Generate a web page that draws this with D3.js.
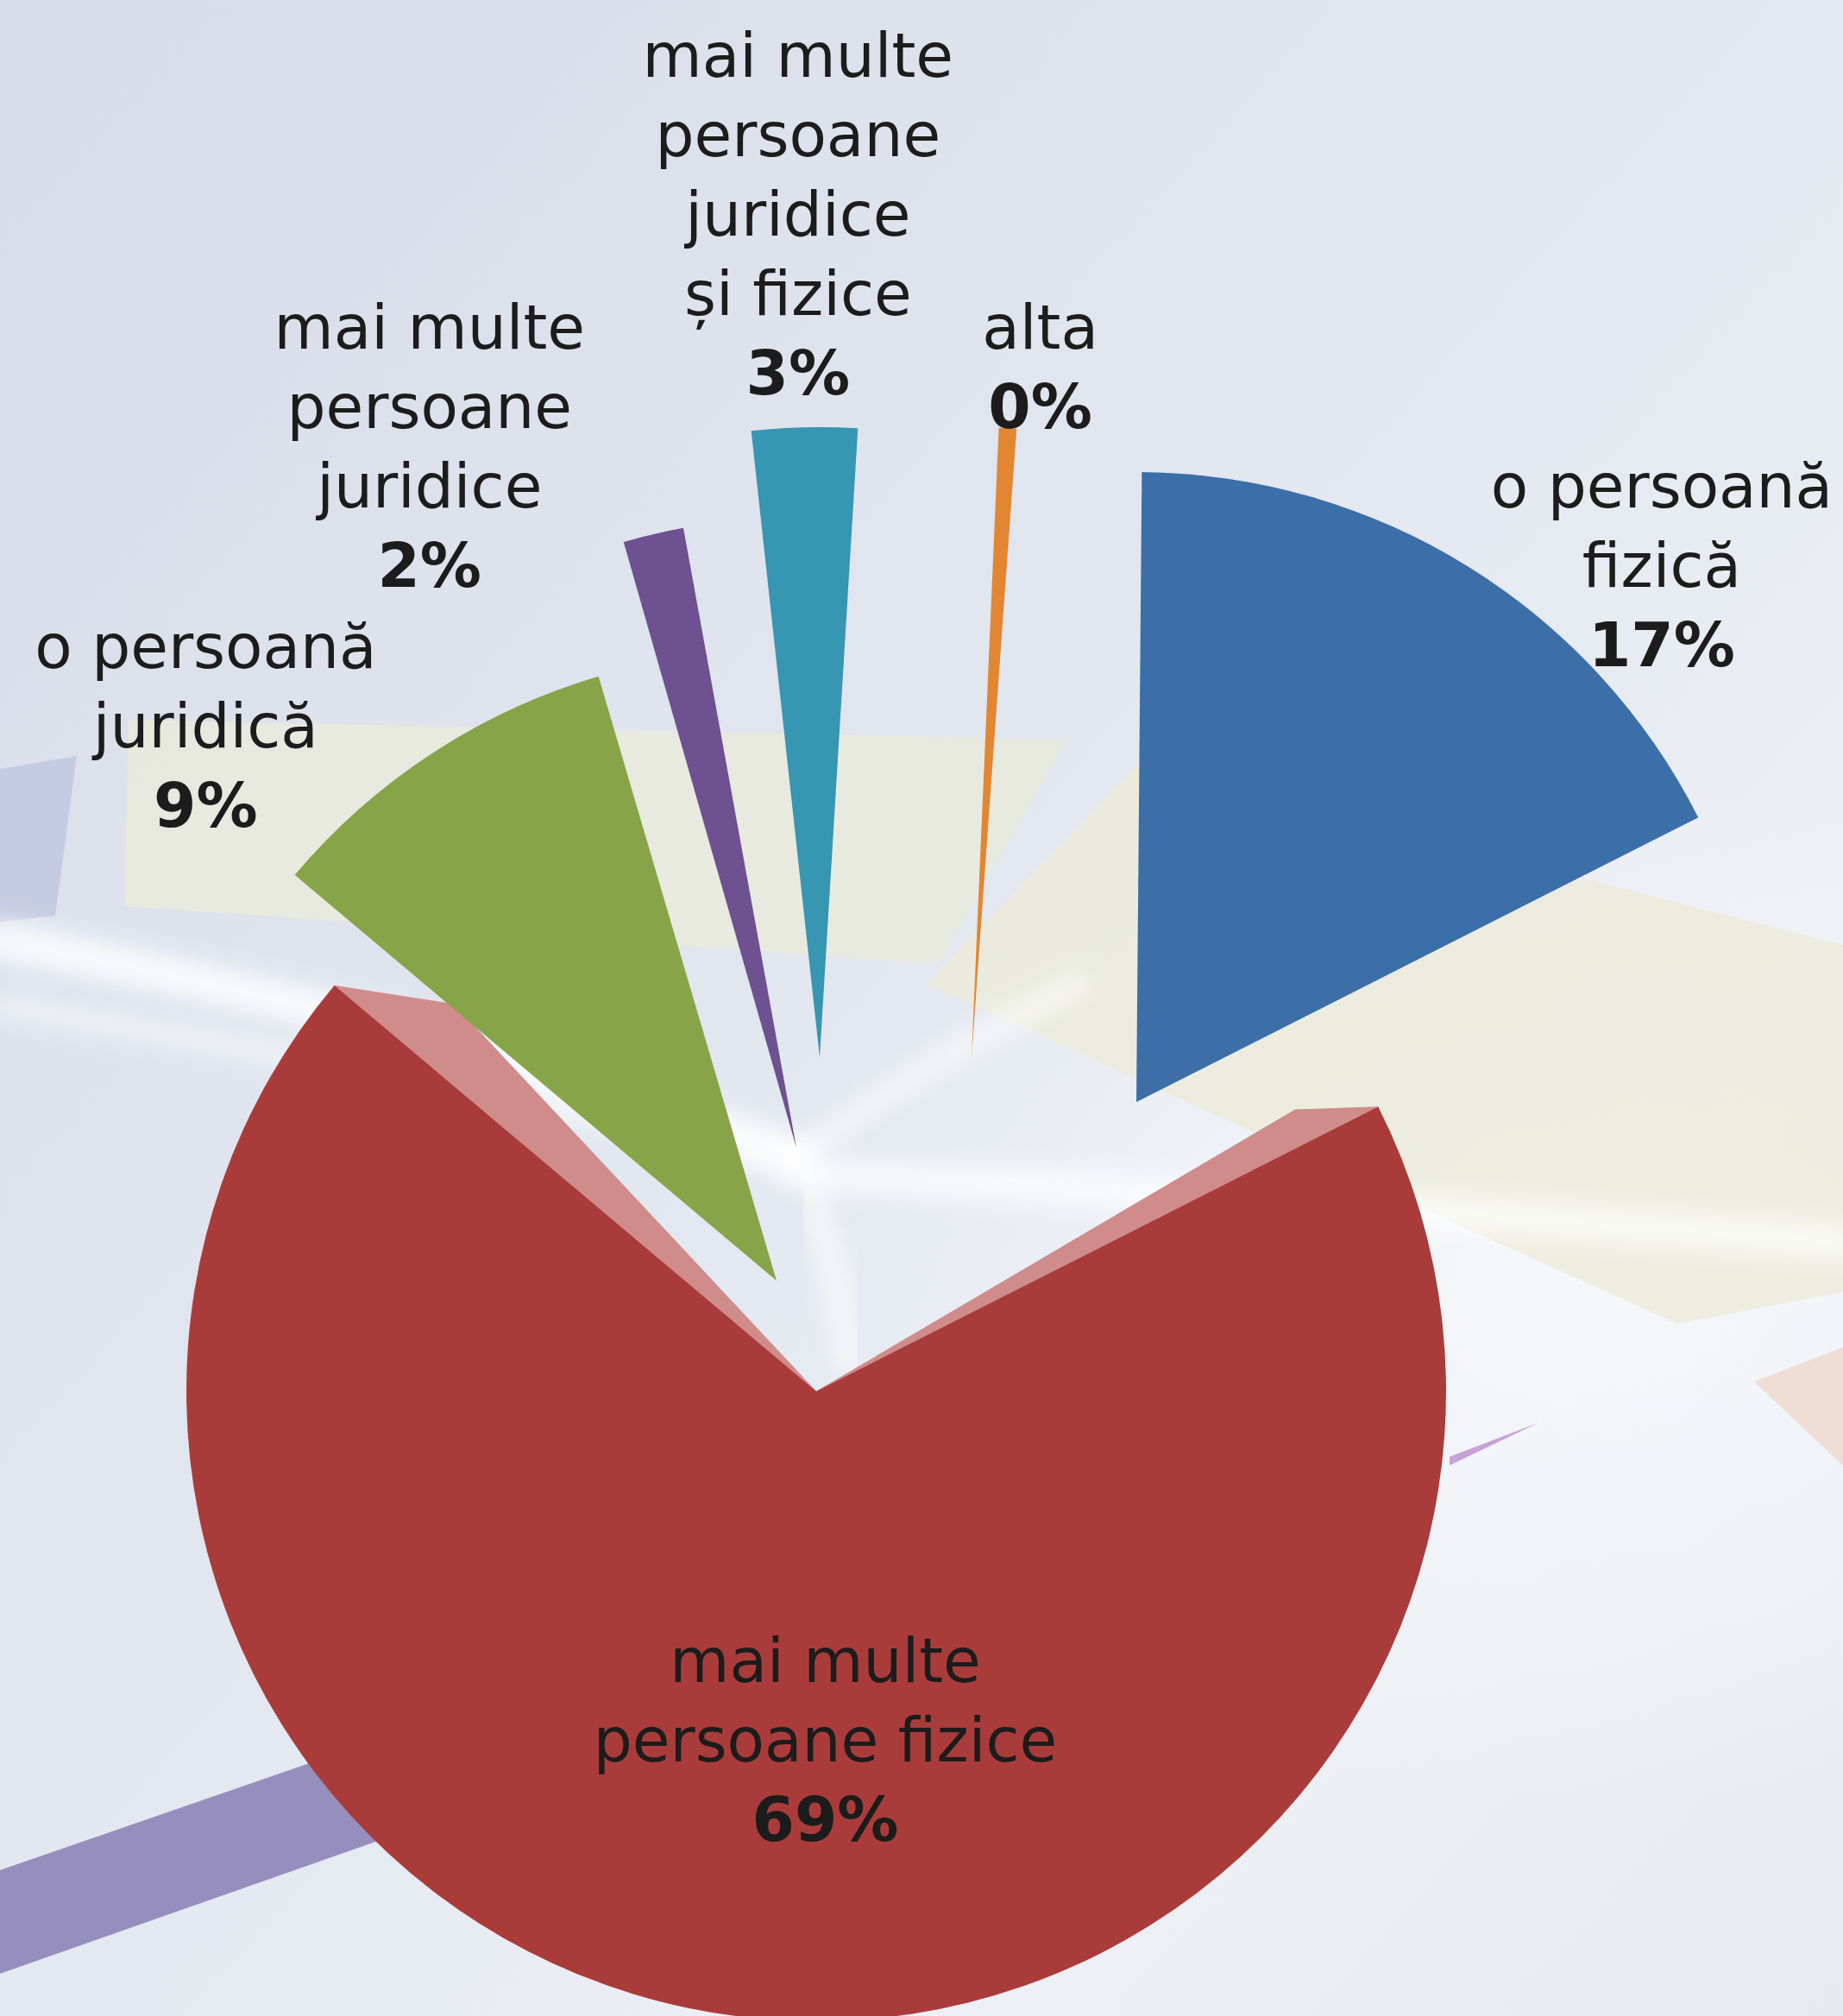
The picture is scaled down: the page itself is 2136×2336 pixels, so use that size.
<!DOCTYPE html>
<html>
<head>
<meta charset="utf-8">
<script src="https://cdn.jsdelivr.net/npm/d3@7"></script>
<style>
  body { margin: 0; background: #e3e7ef; }
  svg { display: block; }
</style>
</head>
<body>
<div id="chart_area"></div>
<script>
// data
const categories = [
  'o persoană fizică',
  'mai multe persoane fizice',
  'o persoană juridică',
  'mai multe persoane juridice',
  'mai multe persoane juridice și fizice',
  'alta'
];
const shares = [17.4, 68.6, 9.3, 1.55, 2.7, 0.45];
const labelLines = [
  ['o persoană', 'fizică'],
  ['mai multe', 'persoane fizice'],
  ['o persoană', 'juridică'],
  ['mai multe', 'persoane', 'juridice'],
  ['mai multe', 'persoane', 'juridice', 'și fizice'],
  ['alta']
];

// layout (hand placed like the original, slices were dragged apart)
const width = 2136;
const height = 2336;
const radius = 730;
const center = [946, 1400];
const explode = [[371, -123], [0, 212], [-46, 84], [-23, -70], [4, -175], [180, -175]];
const tilt = [0, 0, 0, 0.5, 4.6, 3.6];
const labelDist = [870, 405, 922, 917, 977, 803];
const labelTurn = [12.6, -8.1, -12.7, -14.5, -0.1, 2.4];
const colors = ['#3c6ea8', '#a93c3a', '#87a548', '#6d5190', '#3796b1', '#e38632'];
const faceColor = '#d08b8b';
const fontSize = 71;
const lineH = 92;
const rad = (d) => (d * Math.PI) / 180;

const svg = d3
  .select('#chart_area')
  .append('svg')
  .attr('width', width)
  .attr('height', height);

const defs = svg.append('defs');
const bg = defs
  .append('linearGradient')
  .attr('id', 'bg')
  .attr('x1', 0).attr('y1', 0).attr('x2', 1).attr('y2', 1);
bg.append('stop').attr('offset', 0).attr('stop-color', '#d6dce9');
bg.append('stop').attr('offset', 0.45).attr('stop-color', '#e2e6ef');
bg.append('stop').attr('offset', 0.75).attr('stop-color', '#edf0f5');
bg.append('stop').attr('offset', 1).attr('stop-color', '#e6e9ef');
const glow = defs.append('radialGradient').attr('id', 'glow');
glow.append('stop').attr('offset', 0).attr('stop-color', '#f6f8fb').attr('stop-opacity', 0.9);
glow.append('stop').attr('offset', 1).attr('stop-color', '#f6f8fb').attr('stop-opacity', 0);
defs.append('filter').attr('id', 'blur').attr('x', '-20%').attr('y', '-50%').attr('width', '140%').attr('height', '200%')
  .append('feGaussianBlur').attr('stdDeviation', 14);

// background
const back = svg.append('g');
back.append('rect').attr('width', width).attr('height', height).attr('fill', 'url(#bg)');
back.append('ellipse').attr('cx', 1850).attr('cy', 1500).attr('rx', 900).attr('ry', 600).attr('fill', 'url(#glow)');

const shapes = [
  { pts: [[149, 834], [1236, 857], [1087, 1117], [144, 1050]], fill: '#ebebd9', op: 0.75 },
  { pts: [[1073, 1140], [1318, 886], [2136, 1095], [2136, 1497], [1944, 1534]], fill: '#ebebd9', op: 0.8 },
  { pts: [[0, 891], [89, 876], [64, 1061], [0, 1068]], fill: '#c5cbe2', op: 1 },
  { pts: [[0, 2167], [700, 1925], [700, 2041], [0, 2287]], fill: '#968fbd', op: 1 },
  { pts: [[2033, 1601], [2136, 1561], [2136, 1698]], fill: '#f0ddd6', op: 1 },
  { pts: [[1680, 1688], [1782, 1649], [1680, 1698]], fill: '#c6a3d6', op: 1 }
];
back
  .selectAll('path.deco')
  .data(shapes)
  .join('path')
  .attr('class', 'deco')
  .attr('d', (s) => d3.line()(s.pts) + 'Z')
  .attr('fill', (s) => s.fill)
  .attr('opacity', (s) => s.op);

const streaks = [
  { pts: [[0, 1090], [450, 1180], [925, 1340]], w: 44, op: 0.85 },
  { pts: [[0, 1165], [500, 1250], [925, 1350]], w: 24, op: 0.65 },
  { pts: [[925, 1360], [1500, 1390], [2136, 1440]], w: 36, op: 0.8 },
  { pts: [[925, 1340], [1080, 1230], [1250, 1140]], w: 26, op: 0.65 },
  { pts: [[940, 1380], [970, 1480], [985, 1580]], w: 32, op: 0.6 }
];
back
  .selectAll('path.streak')
  .data(streaks)
  .join('path')
  .attr('class', 'streak')
  .attr('d', (s) => d3.line().curve(d3.curveBasis)(s.pts))
  .attr('fill', 'none')
  .attr('stroke', '#ffffff')
  .attr('stroke-width', (s) => s.w)
  .attr('stroke-linecap', 'round')
  .attr('opacity', (s) => s.op)
  .attr('filter', 'url(#blur)');

// pie
const pie = d3
  .pie()
  .sort(null)
  .startAngle(rad(0.5))
  .endAngle(rad(360.5))
  .value((d) => d);
const arcs = pie(shares);
const arc = d3.arc().innerRadius(0).outerRadius(radius);

const chart = svg.append('g').attr('transform', `translate(${center[0]},${center[1]})`);

const slices = chart
  .selectAll('g.slice')
  .data(arcs)
  .join('g')
  .attr('class', 'slice')
  .attr('transform', (d, i) => `translate(${explode[i][0]},${explode[i][1]}) rotate(${tilt[i]})`);

// light cut faces of the big slice
const big = arcs[1];
const faces = [
  [[0, 0], d3.pointRadial(big.endAngle, radius), d3.pointRadial(big.endAngle + rad(6.8), radius * 0.842)],
  [[0, 0], d3.pointRadial(big.startAngle, radius), d3.pointRadial(big.startAngle - rad(3.6), radius * 0.882)]
];
slices
  .filter((d, i) => i === 1)
  .selectAll('path.face')
  .data(faces)
  .join('path')
  .attr('class', 'face')
  .attr('d', (f) => d3.line()(f) + 'Z')
  .attr('fill', faceColor);

slices
  .append('path')
  .attr('d', arc)
  .attr('fill', (d, i) => colors[i]);

// labels
chart
  .selectAll('text.label')
  .data(arcs)
  .join('text')
  .attr('class', 'label')
  .attr('font-family', "'DejaVu Sans', sans-serif")
  .attr('font-size', fontSize)
  .attr('fill', '#1c1c1c')
  .attr('text-anchor', 'middle')
  .each(function (d, i) {
    const mid = (d.startAngle + d.endAngle) / 2 + rad(tilt[i] + labelTurn[i]);
    const p = d3.pointRadial(mid, labelDist[i]);
    const x = explode[i][0] + p[0];
    const y = explode[i][1] + p[1];
    const lines = labelLines[i].concat([Math.round(shares[i]) + '%']);
    const top = y - ((lines.length - 1) * lineH) / 2;
    d3.select(this)
      .selectAll('tspan')
      .data(lines)
      .join('tspan')
      .attr('x', x)
      .attr('y', (t, j) => top + j * lineH)
      .attr('dominant-baseline', 'central')
      .attr('font-weight', (t, j) => (j === lines.length - 1 ? 'bold' : 'normal'))
      .text((t) => t);
  });
</script>
</body>
</html>
